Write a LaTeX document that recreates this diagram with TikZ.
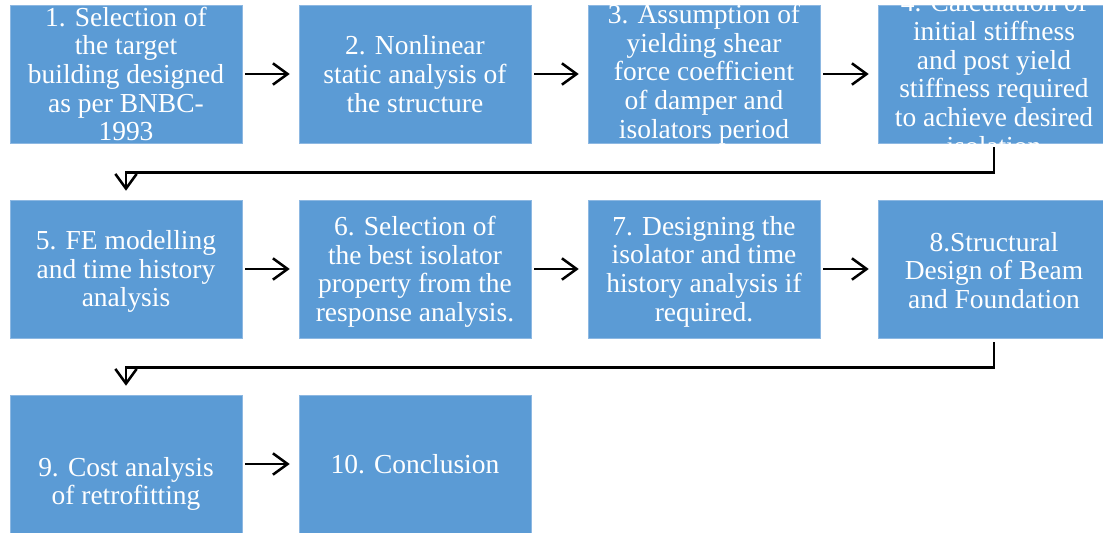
\documentclass[tikz,border=0pt]{standalone}
\usepackage{fontspec}
\setmainfont{Liberation Serif}
\usetikzlibrary{arrows.meta}
\definecolor{boxblue}{HTML}{5B9BD5}
\definecolor{boxedge}{HTML}{8DB8E2}
\begin{document}
\begin{tikzpicture}[x=0.75pt,y=-0.75pt,
  stepbox/.style={fill=boxblue,draw=boxedge,line width=0.4pt,minimum width=174pt,minimum height=103.5pt,inner sep=0pt,anchor=center},
  lbl/.style={text=white,align=center,font=\fontsize{20.6pt}{21.5pt}\selectfont,inner sep=0pt,anchor=center},
  conn/.style={line width=1.9pt,-{Straight Barb[length=11pt,width=16pt,line width=1.9pt]}},
]
\useasboundingbox (0,0) rectangle (1103,532);
% boxes
\node[stepbox] (b1) at (126,74) {};
\node[stepbox] (b2) at (415,74) {};
\node[stepbox] (b3) at (704,74) {};
\node[stepbox] (b4) at (994,74) {};
\node[stepbox] (b5) at (126,269) {};
\node[stepbox] (b6) at (415,269) {};
\node[stepbox] (b7) at (704,269) {};
\node[stepbox] (b8) at (994,269) {};
\node[stepbox] (b9) at (126,464) {};
\node[stepbox] (b10) at (415,464) {};
% texts
\node[lbl] (t1) at (b1.center) {1. Selection of\\the target\\building designed\\as per BNBC-\\1993};
\node[lbl] (t2) at (b2.center) {2. Nonlinear\\static analysis of\\the structure};
\node[lbl] (t3) at (b3.center) {3. Assumption of\\yielding shear\\force coefficient\\of damper and\\isolators period};
\node[lbl] (t4) at (b4.center) {4. Calculation of\\initial stiffness\\and post yield\\stiffness required\\to achieve desired\\isolation};
\node[lbl,yshift=-2pt] (t5) at (b5.center) {5. FE modelling\\and time history\\analysis};
\node[lbl,yshift=-2pt] (t6) at (b6.center) {6. Selection of\\the best isolator\\property from the\\response analysis.};
\node[lbl,yshift=-2pt] (t7) at (b7.center) {7. Designing the\\isolator and time\\history analysis if\\required.};
\node[lbl,yshift=-1pt] (t8) at (b8.center) {8.Structural\\Design of Beam\\and Foundation};
\node[lbl,yshift=-15pt] (t9) at (b9.center) {9. Cost analysis\\of retrofitting};
\node[lbl] (t10) at (b10.center) {10. Conclusion};
% connectors
\draw[conn,shorten <=2.25pt,shorten >=6.75pt] (b1.east) -- (b2.west);
\draw[conn,shorten <=2.25pt,shorten >=6.75pt] (b2.east) -- (b3.west);
\draw[conn,shorten <=2.25pt,shorten >=6.75pt] (b3.east) -- (b4.west);
\draw[conn,shorten <=2.25pt,shorten >=6.75pt] (b5.east) -- (b6.west);
\draw[conn,shorten <=2.25pt,shorten >=6.75pt] (b6.east) -- (b7.west);
\draw[conn,shorten <=2.25pt,shorten >=6.75pt] (b7.east) -- (b8.west);
\draw[conn,shorten <=2.25pt,shorten >=6.75pt] (b9.east) -- (b10.west);
\draw[conn,shorten <=3pt,shorten >=6.75pt] (b4.south) -- ++(0,29) -| (b5.north);
\draw[conn,shorten <=3pt,shorten >=6.75pt] (b8.south) -- ++(0,29) -| (b9.north);
\end{tikzpicture}
\end{document}
